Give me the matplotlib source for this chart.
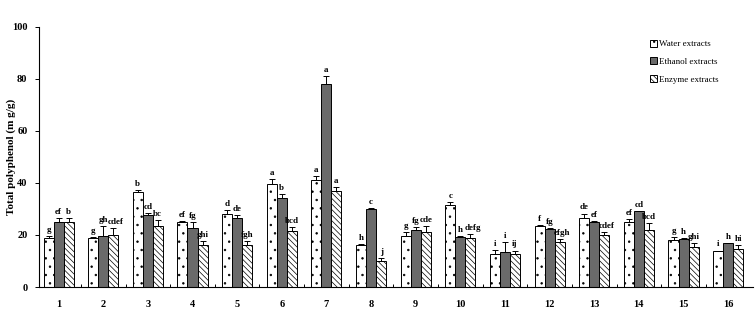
import numpy as np
import matplotlib.pyplot as plt

plt.rcParams['font.family'] = ['Liberation Serif', 'DejaVu Serif']
plt.rcParams['hatch.linewidth'] = 0.5

samples = [str(i) for i in range(1, 17)]

water = [19.0, 18.7, 36.5, 25.0, 28.0, 39.5, 41.0, 16.2, 19.5, 31.3, 12.5, 23.5, 26.6, 24.8, 18.2, 13.7]
water_err = [0.5, 0.6, 0.8, 0.5, 1.5, 2.0, 1.5, 0.2, 1.5, 1.2, 1.7, 0.4, 1.6, 1.3, 1.0, 0.3]
ethanol = [25.0, 19.5, 27.5, 22.8, 26.5, 34.2, 78.0, 29.8, 22.0, 19.3, 13.3, 22.3, 25.0, 29.0, 18.3, 16.8]
ethanol_err = [1.5, 3.8, 0.8, 2.0, 1.2, 1.5, 3.0, 0.4, 1.0, 0.4, 3.8, 0.5, 0.5, 0.3, 0.5, 0.2]
enzyme = [25.0, 20.0, 23.3, 16.0, 16.3, 21.7, 37.0, 10.0, 21.0, 18.9, 12.5, 17.3, 20.0, 22.0, 15.5, 14.7]
enzyme_err = [1.5, 2.8, 2.5, 1.5, 1.2, 1.3, 1.5, 1.0, 2.5, 1.4, 1.5, 1.0, 1.2, 2.5, 1.5, 1.5]

water_lbl = ['g', 'g', 'b', 'ef', 'd', 'a', 'a', 'h', 'g', 'c', 'i', 'f', 'de', 'ef', 'g', 'i']
ethanol_lbl = ['ef', 'gh', 'cd', 'fg', 'de', 'b', 'a', 'c', 'fg', 'h', 'i', 'fg', 'ef', 'cd', 'h', 'h']
enzyme_lbl = ['b', 'cdef', 'bc', 'ghi', 'fgh', 'bcd', 'a', 'j', 'cde', 'defg', 'ij', 'efgh', 'cdef', 'bcd', 'ghi', 'hi']

fig = plt.figure(figsize=(7.55, 3.12), dpi=100)
ax = fig.add_axes([0.051, 0.08, 0.946, 0.835])

x = np.arange(1, 17)
w = 0.225
series = [
    (water, water_err, water_lbl, 'white', '..', 'Water extracts'),
    (ethanol, ethanol_err, ethanol_lbl, '#6a6a6a', None, 'Ethanol extracts'),
    (enzyme, enzyme_err, enzyme_lbl, 'white', '\\\\\\\\\\\\', 'Enzyme extracts'),
]
for k, (vals, errs, lbls, col, hatch, name) in enumerate(series):
    xs = x + (k - 1) * w
    ax.bar(xs, vals, w, color=col, edgecolor='black', hatch=hatch,
           linewidth=0.7, label=name, zorder=2)
    ax.errorbar(xs, vals, yerr=[np.zeros(16), errs], fmt='none', ecolor='black',
                elinewidth=0.7, capsize=2, capthick=0.7, zorder=3)
    for xi, v, e, t in zip(xs, vals, errs, lbls):
        # long labels on the last bar lean right a little, as in the original
        shift = 0.05 if (k == 2 and len(t) > 3) else 0
        ax.text(xi + shift, v + e + 0.8, t, ha='center', va='bottom',
                fontsize=6.5, fontweight='bold')

ax.set_xlim(0.55, 16.55)
ax.set_ylim(0, 100)
ax.set_xticks(x)
ax.set_xticklabels(samples, fontsize=7.5, fontweight='bold')
ax.set_xticks(np.arange(1.5, 16.5, 1), minor=True)
ax.tick_params(axis='x', which='major', length=0, pad=9)
ax.tick_params(axis='x', which='minor', length=2.5, direction='in', width=0.7)
ax.set_yticks(range(0, 101, 20))
ax.set_yticklabels([str(v) for v in range(0, 101, 20)], fontsize=7.5, fontweight='bold')
ax.tick_params(axis='y', length=3, width=0.7, direction='out', pad=5)
ax.set_ylabel('Total polyphenol (m g/g)', fontsize=8, fontweight='bold')
ax.yaxis.set_label_coords(-0.031, 0.5)

for s in ['top', 'right']:
    ax.spines[s].set_visible(False)
for s in ['left', 'bottom']:
    ax.spines[s].set_linewidth(0.8)

leg = ax.legend(loc='upper left', bbox_to_anchor=(0.845, 0.98), frameon=False,
                fontsize=6.5, handlelength=0.8, handleheight=0.8,
                handletextpad=0.2, labelspacing=1.0)

fig.savefig('out.png', dpi=100)
